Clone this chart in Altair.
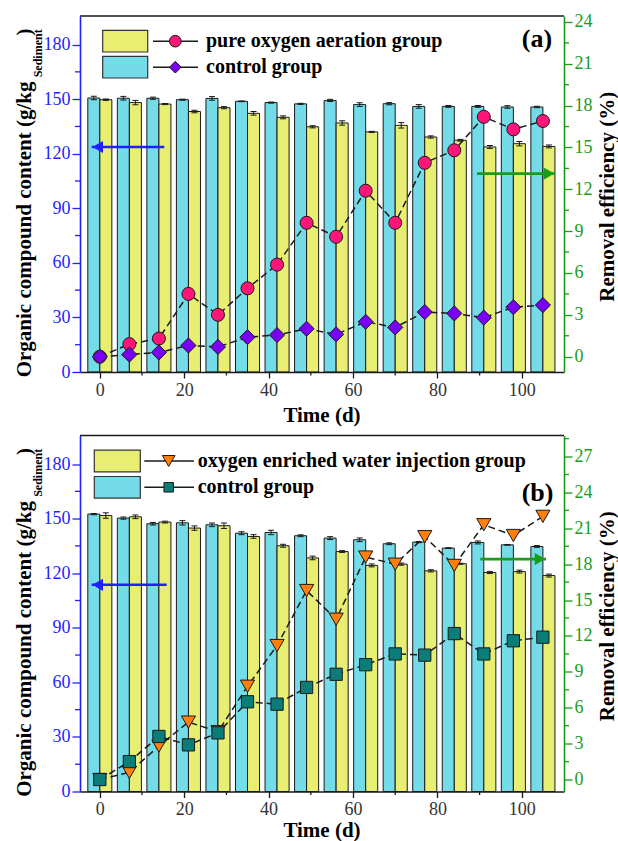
import altair as alt
import pandas as pd

FONT = "Liberation Serif, Times New Roman, DejaVu Serif, serif"
CYAN = "#74dbe8"
YELLOW = "#e8ee72"
BLUE = "#1f1fff"
GREEN = "#1a9c1a"
INK = "#1a1a1a"

W, H = 484, 356
BAR_W = 2.85  # width of one bar, in days

days = [0, 7, 14, 21, 28, 35, 42, 49, 56, 63, 70, 77, 84, 91, 98, 105]

# (a) pure oxygen aeration
a_ctrl_content = [150.6, 150.5, 150.5, 149.7, 150.4, 148.8, 148.1, 147.4,
                  149.3, 147.0, 147.5, 146.0, 146.0, 146.0, 145.7, 145.7]
a_ctrl_err = [1.0, 1.0, 0.6, 0.3, 1.0, 0.2, 0.3, 0.3,
              0.6, 1.0, 0.6, 1.0, 0.5, 0.5, 0.7, 0.4]
a_trt_content = [149.7, 148.1, 147.3, 143.2, 145.3, 142.2, 140.0, 134.8,
                 136.9, 132.0, 135.6, 129.2, 127.4, 123.7, 125.5, 124.0]
a_trt_err = [0.4, 1.2, 0.3, 0.7, 0.6, 1.0, 0.8, 0.6,
             1.2, 0.3, 1.5, 0.6, 0.5, 0.8, 1.2, 0.8]
a_trt_removal = [0.0, 0.9, 1.3, 4.5, 3.0, 4.9, 6.6, 9.6,
                 8.6, 11.9, 9.6, 13.9, 14.8, 17.2, 16.3, 16.9]
a_ctrl_removal = [0.0, 0.15, 0.3, 0.8, 0.7, 1.4, 1.55, 2.0,
                  1.6, 2.5, 2.1, 3.2, 3.1, 2.8, 3.55, 3.7]

# (b) oxygen enriched water injection
b_ctrl_content = [152.5, 150.3, 147.2, 147.7, 146.6, 142.0, 142.4, 140.6,
                  139.3, 138.4, 136.2, 137.1, 133.8, 136.9, 135.6, 134.7]
b_ctrl_err = [0.3, 0.6, 0.7, 1.2, 1.0, 0.8, 1.2, 0.5,
              0.8, 1.0, 0.5, 0.3, 0.2, 0.8, 0.2, 0.5]
b_trt_content = [151.7, 151.0, 148.1, 144.8, 146.1, 140.2, 135.1, 128.4,
                 131.9, 124.3, 125.0, 121.3, 125.2, 120.4, 120.9, 118.7]
b_trt_err = [1.5, 1.0, 0.5, 1.2, 1.5, 1.0, 0.8, 1.0,
             0.5, 0.8, 0.6, 0.6, 0.3, 0.6, 0.8, 0.8]
b_trt_removal = [0.0, 0.6, 2.8, 4.8, 4.0, 7.8, 11.2, 15.8,
                 13.4, 18.6, 18.0, 20.3, 17.9, 21.3, 20.4, 22.0]
b_ctrl_removal = [0.0, 1.5, 3.6, 2.9, 3.9, 6.5, 6.3, 7.7,
                  8.8, 9.6, 10.5, 10.4, 12.2, 10.5, 11.6, 11.9]

# major (labelled) and minor tick positions
x_major = [0, 20, 40, 60, 80, 100]
x_minor = [10, 30, 50, 70, 90]
content_major = [0, 30, 60, 90, 120, 150, 180]
content_minor = [15, 45, 75, 105, 135, 165]
removal_major_a = [0, 3, 6, 9, 12, 15, 18, 21, 24]
removal_minor_a = [1.5, 4.5, 7.5, 10.5, 13.5, 16.5, 19.5, 22.5]
removal_major_b = [0, 3, 6, 9, 12, 15, 18, 21, 24, 27]
removal_minor_b = [1.5, 4.5, 7.5, 10.5, 13.5, 16.5, 19.5, 22.5, 25.5, 28.5]

X_SCALE = alt.Scale(domain=[-4.7, 110], nice=False, zero=False)
YL_SCALE = alt.Scale(domain=[0, 195.7], nice=False, zero=False)

X_AXIS = alt.Axis(
    values=x_major, title=None, grid=False, tickSize=6,
    domainColor=INK, tickColor=INK, labelColor="#333333", domainWidth=1.6, tickWidth=1.3,
    labelFont=FONT, labelFontSize=18, labelPadding=3, labelOverlap=False, zindex=1,
)

one = pd.DataFrame({"k": [0]})


def side_axis(orient, values, color):
    return alt.Axis(
        orient=orient, values=values, title=None, grid=False, tickSize=8,
        domainColor=color, tickColor=color, labelColor=color,
        domainWidth=1.6, tickWidth=1.3, labelFont=FONT, labelFontSize=18,
        labelPadding=2, labelOverlap=False, labelFlush=False, zindex=1,
    )


def txt(s, x, y, size, angle=0, align="center", weight="bold", color="black"):
    return alt.Chart(one).mark_text(
        text=s, font=FONT, fontSize=size, fontWeight=weight, angle=angle,
        align=align, baseline="middle", color=color,
    ).encode(x=alt.value(x), y=alt.value(y))


def arrow(x0, x1, y, color, direction):
    shaft = alt.Chart(one).mark_rule(color=color, strokeWidth=2.6).encode(
        x=alt.value(x0), x2=alt.value(x1), y=alt.value(y))
    tip_x = x0 + 6 if direction == "left" else x1 - 6
    head = alt.Chart(one).mark_point(
        shape=f"triangle-{direction}", filled=True, color=color, opacity=1, size=150,
    ).encode(x=alt.value(tip_x), y=alt.value(y))
    return [shaft, head]


def panel(ctrl, ctrl_err, trt, trt_err, trt_rm, ctrl_rm, rm_domain, rm_major, rm_minor,
          tag, tag_pos, trt_label, trt_shape, trt_color, trt_size,
          ctrl_shape, ctrl_color, ctrl_size, leg, blue_arrow, green_arrow, time_y):
    left_axis = side_axis("left", content_major, BLUE)
    right_axis = side_axis("right", rm_major, GREEN)
    yr = alt.Scale(domain=rm_domain, nice=False, zero=False)

    def xq(field):
        return alt.X(field, scale=X_SCALE, axis=X_AXIS)

    def yl(field):
        return alt.Y(field, scale=YL_SCALE, axis=left_axis)

    def yrq(field):
        return alt.Y(field, scale=yr, axis=right_axis)

    bars = pd.DataFrame({
        "group": ["control"] * len(days) + ["treated"] * len(days),
        "day": days + days,
        "value": ctrl + trt,
        "err": ctrl_err + trt_err,
    })
    base = alt.Chart(bars).transform_calculate(
        x0=f"datum.group === 'control' ? datum.day - {BAR_W} : datum.day",
    ).transform_calculate(
        x1=f"datum.x0 + {BAR_W}",
        xc=f"datum.x0 + {BAR_W / 2}",
        lo="datum.value - datum.err",
        hi="datum.value + datum.err",
        zero="0",
    )
    fill = alt.Fill("group:N", legend=None,
                    scale=alt.Scale(domain=["control", "treated"], range=[CYAN, YELLOW]))
    bar_layer = base.mark_bar(stroke=INK, strokeWidth=1).encode(
        x=xq("x0:Q"), x2="x1:Q", y=yl("value:Q"), y2="zero:Q", fill=fill,
    )
    err_layer = base.mark_rule(color=INK, strokeWidth=1).encode(
        x=xq("xc:Q"), y=yl("lo:Q"), y2="hi:Q",
    )
    cap_layer = base.transform_fold(["lo", "hi"], as_=["end", "cap"]).mark_tick(
        orient="horizontal", size=6, thickness=1, color=INK, opacity=1,
    ).encode(x=xq("xc:Q"), y=yl("cap:Q"))

    # minor ticks drawn through the same scales
    x_minor_layer = alt.Chart(pd.DataFrame({"v": x_minor})).mark_rule(
        color=INK, strokeWidth=1.3).encode(x=xq("v:Q"), y=alt.value(H), y2=alt.value(H + 3.5))
    yl_minor_layer = alt.Chart(pd.DataFrame({"v": content_minor})).mark_rule(
        color=BLUE, strokeWidth=1.3).encode(x=alt.value(-5), x2=alt.value(0), y=yl("v:Q"))
    content = alt.layer(bar_layer, err_layer, cap_layer, x_minor_layer, yl_minor_layer)

    yr_minor_layer = alt.Chart(pd.DataFrame({"v": rm_minor})).mark_rule(
        color=GREEN, strokeWidth=1.3).encode(x=alt.value(W), x2=alt.value(W + 5), y=yrq("v:Q"))
    rm_layers = [yr_minor_layer]
    for values in (trt_rm, ctrl_rm):
        df = pd.DataFrame({"day": days, "removal": values})
        rm_layers.append(alt.Chart(df).mark_line(
            color=INK, strokeWidth=1.5, strokeDash=[7, 4]).encode(x=xq("day:Q"), y=yrq("removal:Q")))
    for values, shape, color, size in ((trt_rm, trt_shape, trt_color, trt_size),
                                       (ctrl_rm, ctrl_shape, ctrl_color, ctrl_size)):
        df = pd.DataFrame({"day": days, "removal": values})
        rm_layers.append(alt.Chart(df).mark_point(
            shape=shape, filled=True, fill=color, stroke=INK, strokeWidth=1, opacity=1, size=size,
        ).encode(x=xq("day:Q"), y=yrq("removal:Q")))
    removal = alt.layer(*rm_layers)

    # frame top edge
    top = alt.Chart(one).mark_rule(color=INK, strokeWidth=1.6).encode(
        x=alt.value(0), x2=alt.value(W), y=alt.value(0))

    # hand-built legend
    rx0, rx1, lx0, lx1, mx, tx, r1, r2 = leg
    extras = [top]
    for (yc, colr, shape, mcol, msize, label) in [
        (r1, YELLOW, trt_shape, trt_color, trt_size * 0.8, trt_label),
        (r2, CYAN, ctrl_shape, ctrl_color, ctrl_size * 0.6, "control group"),
    ]:
        extras.append(alt.Chart(one).mark_rect(fill=colr, stroke="#333333", strokeWidth=1.2).encode(
            x=alt.value(rx0), x2=alt.value(rx1), y=alt.value(yc - 10.8), y2=alt.value(yc + 10.8)))
        extras.append(alt.Chart(one).mark_rule(color=INK, strokeWidth=1.6).encode(
            x=alt.value(lx0), x2=alt.value(lx1), y=alt.value(yc)))
        extras.append(alt.Chart(one).mark_point(
            shape=shape, filled=True, fill=mcol, stroke=INK, strokeWidth=1, opacity=1, size=msize,
        ).encode(x=alt.value(mx), y=alt.value(yc)))
        extras.append(txt(label, tx, yc, 20, align="left"))

    # axis titles and panel tag
    extras += [
        txt("Organic compound content (g/kg", -55.5, 361.3, 21, angle=270, align="left"),
        txt("Sediment", -42, 61.3, 12, angle=270, align="left"),
        txt(")", -55.5, 19.5, 21, angle=270, align="left"),
        txt("Removal efficiency (%)", 527.5, 180.8, 21, angle=270),
        txt("Time (d)", W / 2, time_y, 21),
        txt(tag, tag_pos[0], tag_pos[1], 26),
    ]
    extras += arrow(*blue_arrow, BLUE, "left") + arrow(*green_arrow, GREEN, "right")

    return alt.layer(content, removal, *extras).resolve_scale(
        y="independent").properties(width=W, height=H)


panel_a = panel(
    a_ctrl_content, a_ctrl_err, a_trt_content, a_trt_err, a_trt_removal, a_ctrl_removal,
    [-1.1, 24.43], removal_major_a, removal_minor_a, "(a)", (457, 23.3),
    "pure oxygen aeration group",
    "circle", "#ff1478", 170, "diamond", "#7a00f5", 230,
    (22.7, 67.7, 73, 118, 95.3, 126, 25.2, 51.2),
    (11.7, 84.3, 131), (397, 475, 157.6), 400,
)
panel_b = panel(
    b_ctrl_content, b_ctrl_err, b_trt_content, b_trt_err, b_trt_removal, b_ctrl_removal,
    [-1.0, 28.76], removal_major_b, removal_minor_b, "(b)", (457.6, 57.3),
    "oxygen enriched water injection group",
    "triangle-down", "#ff7f0a", 200, "square", "#0a7d78", 150,
    (14.3, 60.3, 64.3, 114, 88.7, 117.7, 25.5, 51.8),
    (11.7, 86.7, 149.3), (400.3, 466, 123.6), 395,
)

chart = alt.vconcat(panel_a, panel_b, spacing=8.5).properties(
    padding={"left": 13, "top": 12, "right": 0, "bottom": 0},
    background="white",
).configure_view(stroke=None)

chart.save("out.html", embed_options={"renderer": "svg", "actions": False})
